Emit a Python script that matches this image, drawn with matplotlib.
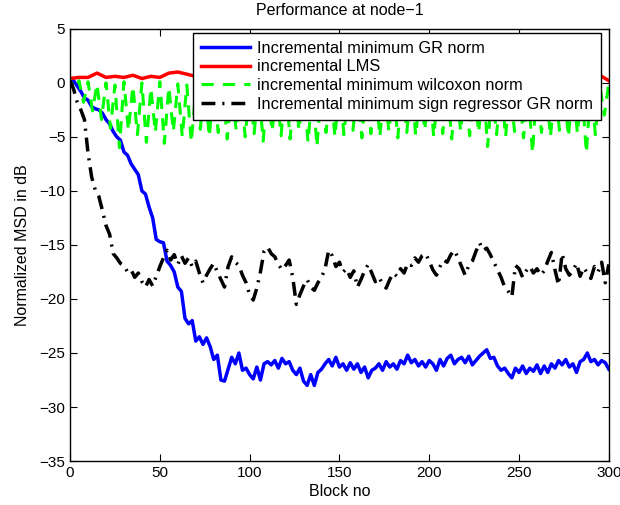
import matplotlib
matplotlib.use("Agg")
import matplotlib.pyplot as plt
import numpy as np

plt.rcParams['font.family'] = ['Liberation Sans', 'DejaVu Sans']

# Incremental minimum GR norm, blocks 0,2,...,300
blocs_gr = np.arange(0, 301, 2)
msd_gr = [0.3, 0.2, -0.3, -0.8, -1.4, -1.6, -2.2, -2.4, -2.5, -2.8,
          -3.4, -3.8, -4.5, -5.0, -5.3, -6.4, -6.7, -7.5, -8.0, -8.5,
          -10.0, -10.3, -11.5, -12.5, -14.5, -14.7, -14.8, -16.5, -16.9, -17.5,
          -18.9, -19.3, -21.8, -22.3, -22.0, -23.9, -23.5, -24.2, -23.6, -24.4,
          -25.6, -25.2, -27.5, -27.6, -26.5, -25.4, -26.0, -25.0, -26.6, -26.4,
          -27.0, -27.4, -26.3, -27.5, -26.0, -25.8, -26.1, -25.7, -26.4, -25.5,
          -26.0, -25.8, -26.6, -27.0, -26.4, -27.6, -28.0, -27.0, -28.0, -26.8,
          -26.5, -26.0, -25.6, -26.2, -25.4, -26.3, -26.0, -26.6, -25.9, -26.5,
          -26.0, -26.8, -26.3, -27.3, -26.6, -26.4, -26.0, -26.6, -25.8, -26.3,
          -26.0, -26.5, -25.7, -26.0, -25.2, -25.9, -25.6, -26.2, -25.8, -26.3,
          -25.7, -26.0, -26.6, -25.6, -26.2, -25.5, -25.2, -26.0, -25.6, -25.4,
          -25.9, -25.3, -26.1, -25.7, -25.3, -25.0, -24.7, -25.5, -25.4, -26.2,
          -26.6, -26.4, -26.9, -27.3, -26.4, -26.8, -26.2, -26.9, -26.4, -26.7,
          -26.1, -26.9, -26.2, -26.8, -26.0, -26.4, -25.7, -26.1, -25.6, -26.3,
          -26.0, -26.8, -25.8, -25.6, -25.0, -25.8, -25.6, -26.1, -25.7, -25.9,
          -26.5]

# incremental LMS, blocks 0,5,...,300
blocs_lms = np.arange(0, 301, 5)
msd_lms = [0.4, 0.5, 0.5, 0.9, 0.5, 0.6, 0.5, 0.7, 0.4, 0.6,
           0.5, 0.9, 1.0, 0.8, 0.6, 0.7, 0.5, 0.6, 0.8, 0.5,
           0.6, 0.5, 0.7, 0.6, 0.5, 0.7, 0.6, 0.5, 0.6, 0.7,
           0.5, 0.6, 0.7, 0.5, 0.6, 0.6, 0.5, 0.7, 0.6, 0.5,
           0.6, 0.7, 0.5, 0.6, 0.6, 0.5, 0.7, 0.6, 0.5, 0.6,
           0.7, 0.5, 0.6, 0.6, 0.5, 0.7, 0.6, 0.5, 0.6, 0.7,
           0.2]

# incremental minimum wilcoxon norm, blocks 0,2.5,...,300 (peaks / troughs)
blocs_wil = np.arange(0, 301, 2.5)
msd_wil = [0.3, -0.8, 0.2, -1.8, 0.1, -2.6, -0.1, -3.4, 0.0, -4.2,
           -0.2, -6.0, 0.1, -4.4, -0.3, -4.8, 0.0, -5.5, -0.5, -4.6,
           0.1, -5.6, -0.4, -4.5, -0.1, -5.0, -0.2, -5.5, -0.6, -4.3,
           0.0, -5.0, -0.3, -4.6, -0.1, -5.2, -0.5, -4.4, 0.1, -5.0,
           -0.4, -4.7, -0.1, -5.4, -0.2, -4.5, -0.6, -4.9, 0.0, -5.2,
           -0.3, -4.4, -0.1, -5.5, -0.5, -5.9, 0.0, -4.6, -0.4, -5.0,
           -0.1, -4.8, -0.2, -4.4, -0.5, -5.1, 0.0, -4.7, -0.3, -5.0,
           -0.1, -4.5, -0.4, -5.1, 0.0, -4.6, -0.2, -4.9, -0.5, -4.4,
           0.0, -5.0, -0.3, -4.7, -0.1, -5.2, -0.4, -4.5, -0.1, -4.9,
           -0.3, -4.6, 0.0, -5.9, -0.5, -4.8, -0.1, -5.0, -0.3, -4.5,
           -0.1, -5.1, -0.4, -6.5, 0.0, -4.6, -0.3, -5.0, -0.2, -4.4,
           -0.4, -5.0, -0.1, -4.7, -0.5, -6.5, 0.0, -4.8, -0.3, -3.0,
           0.0]

# Incremental minimum sign regressor GR norm, blocks 0,2,...,300
blocs_sr = np.arange(0, 301, 2)
msd_sr = [0.2, -0.6, -1.8, -2.5, -3.4, -6.5, -8.7, -9.9, -10.5, -11.8,
          -13.2, -14.0, -15.8, -16.2, -16.7, -16.9, -17.5, -17.3, -18.0, -17.6,
          -18.4, -18.9, -18.2, -18.8, -17.9, -17.0, -16.2, -15.5, -16.4, -15.9,
          -16.8, -16.0, -16.7, -16.2, -17.0, -16.5, -17.6, -18.5, -17.8, -17.2,
          -16.7, -17.5, -18.2, -18.9, -17.0, -16.1, -16.6, -16.9, -17.8, -18.5,
          -19.6, -20.1, -19.0, -17.5, -15.6, -15.2, -15.8, -16.1, -16.8, -17.3,
          -16.9, -16.4, -18.0, -20.5, -19.6, -18.8, -18.2, -18.9, -19.2, -18.5,
          -18.0, -17.2, -15.5, -16.0, -17.0, -16.6, -17.5, -17.2, -18.0, -17.4,
          -18.9, -18.2, -17.4, -16.8, -17.6, -18.4, -18.0, -18.6, -19.0, -18.2,
          -17.6, -17.9, -17.2, -17.6, -16.7, -16.9, -16.2, -16.6, -16.0, -15.8,
          -16.5, -17.3, -17.8, -17.0, -16.4, -16.6, -15.9, -15.5, -16.2, -17.0,
          -17.8, -16.9, -16.5, -15.6, -14.8, -15.5, -15.3, -15.9, -16.6, -17.3,
          -18.0, -18.9, -19.3, -19.8, -16.9, -17.2, -18.0, -17.4, -17.0, -17.6,
          -17.2, -17.8, -17.4, -16.5, -15.7, -17.3, -18.7, -15.8, -17.2, -17.8,
          -17.4, -16.7, -17.9, -17.1, -17.6, -18.1, -17.0, -17.5, -16.6, -18.5,
          -16.8]

fig = plt.figure(figsize=(6.2, 5.05), dpi=100)
ax = fig.add_axes([0.113, 0.087, 0.869, 0.856])

ax.plot(blocs_gr, msd_gr, color='#0000ff', lw=2.5, label='Incremental minimum GR norm')
ax.plot(blocs_lms, msd_lms, color='#ff0000', lw=2.5, label='incremental LMS')
ax.plot(blocs_wil, msd_wil, color='#00ff00', lw=2.2, linestyle=(0, (4, 3)),
        label='incremental minimum wilcoxon norm')
ax.plot(blocs_sr, msd_sr, color='black', lw=2.5, linestyle=(0, (4, 2, 0.6, 2)),
        label='Incremental minimum sign regressor GR norm')

ax.set_xlim(0, 300)
ax.set_ylim(-35, 5)
ax.set_xticks(np.arange(0, 301, 50))
ax.set_yticks(np.arange(-35, 6, 5))
ax.tick_params(direction='in', top=True, right=True, length=5, labelsize=11)
for s in ax.spines.values():
    s.set_linewidth(1.0)

ax.set_xlabel('Block no', fontsize=11.5, labelpad=3)
ax.set_ylabel('Normalized MSD in dB', fontsize=11.5, labelpad=7)
ax.set_title('Performance at node\u22121', fontsize=11.5, pad=10)

leg = ax.legend(loc='upper right', bbox_to_anchor=(0.985, 0.991), borderaxespad=0,
                fancybox=False, edgecolor='black', framealpha=1, fontsize=11.8,
                handlelength=3.0, handletextpad=0.4, labelspacing=0.22, borderpad=0.5)
leg.get_frame().set_linewidth(1.0)

fig.savefig('out.png', dpi=100)
